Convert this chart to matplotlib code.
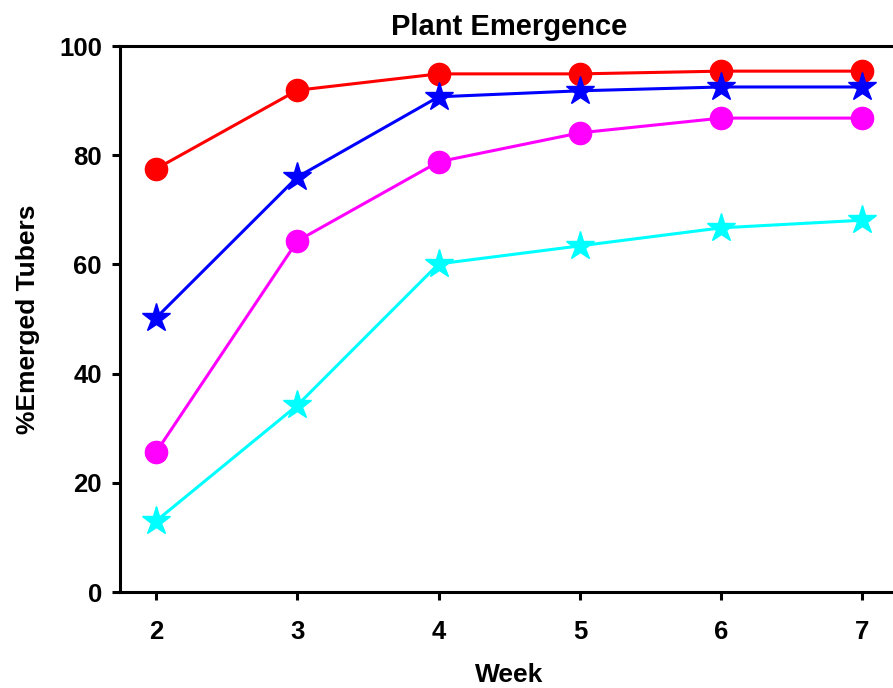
import matplotlib
matplotlib.use("Agg")
import matplotlib.pyplot as plt

weeks = [2, 3, 4, 5, 6, 7]

red_values = [77.5, 91.9, 94.9, 94.9, 95.4, 95.4]
blue_values = [50.2, 76.0, 90.7, 91.8, 92.5, 92.5]
magenta_values = [25.6, 64.3, 78.8, 84.1, 86.8, 86.8]
cyan_values = [13.0, 34.2, 60.1, 63.4, 66.7, 68.1]

y_ticks = [0, 20, 40, 60, 80, 100]

plt.rcParams["font.family"] = ["Liberation Sans", "DejaVu Sans"]
plt.rcParams["font.weight"] = "bold"

fig = plt.figure(figsize=(8.93, 6.88), dpi=100)
ax = fig.add_axes([0.1344, 0.1395, 0.871, 0.7936])

ax.plot(weeks, red_values, color="red", lw=2.2, marker="o", markersize=16, zorder=3)
ax.plot(weeks, blue_values, color="blue", lw=2.2, marker="*", markersize=21, zorder=4)
ax.plot(weeks, magenta_values, color="magenta", lw=2.2, marker="o", markersize=16, zorder=3)
ax.plot(weeks, cyan_values, color="cyan", lw=2.2, marker="*", markersize=21, zorder=3)

ax.set_xlim(1.745, 7.25)
ax.set_ylim(0, 100)
ax.set_xticks(weeks)
ax.set_yticks(y_ticks)

for side in ["left", "bottom", "top", "right"]:
    ax.spines[side].set_linewidth(2.2)

ax.tick_params(direction="out", length=6, width=2.2, labelsize=18.5, pad=7)
ax.tick_params(axis="x", pad=14)
for lbl in ax.get_xticklabels() + ax.get_yticklabels():
    lbl.set_fontweight("bold")

ax.set_title("Plant Emergence", fontsize=21, fontweight="bold", pad=8)
ax.set_xlabel("Week", fontsize=19, fontweight="bold", labelpad=14)
ax.set_ylabel("%Emerged Tubers", fontsize=19, fontweight="bold", labelpad=14)

fig.savefig("out.png", dpi=100)
